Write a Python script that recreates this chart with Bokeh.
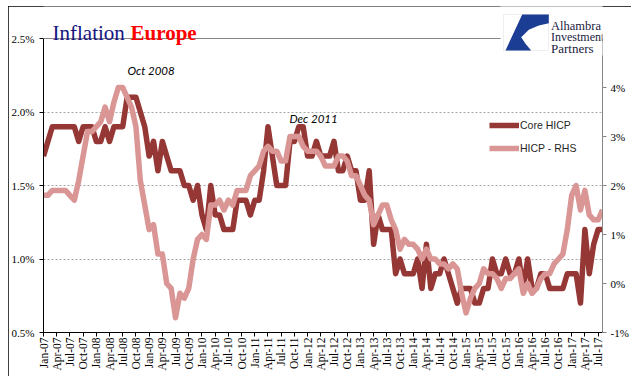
import math
from bokeh.plotting import figure
from bokeh.models import (Range1d, LinearAxis, FixedTicker, PrintfTickFormatter,
                          Legend, LegendItem, Label, Span, BoxAnnotation, PolyAnnotation)
from bokeh.embed import file_html
from bokeh.resources import INLINE

# ---------------- data (Jan 2007 .. Aug 2017, monthly, y/y %) ----------------
core_hicp = [
    1.7, 1.8, 1.9, 1.9, 1.9, 1.9, 1.9, 1.9, 1.8, 1.9, 1.9, 1.9,   # 2007
    1.8, 1.8, 1.9, 1.8, 1.9, 1.9, 1.9, 2.1, 2.1, 2.1, 2.0, 1.9,   # 2008
    1.7, 1.8, 1.6, 1.8, 1.7, 1.6, 1.6, 1.6, 1.5, 1.5, 1.4, 1.5,   # 2009
    1.3, 1.2, 1.5, 1.3, 1.3, 1.2, 1.2, 1.2, 1.4, 1.4, 1.4, 1.3,   # 2010
    1.4, 1.4, 1.6, 1.9, 1.7, 1.5, 1.5, 1.5, 1.8, 1.8, 1.9, 1.9,   # 2011
    1.7, 1.7, 1.8, 1.7, 1.7, 1.7, 1.8, 1.6, 1.6, 1.7, 1.6, 1.6,   # 2012
    1.4, 1.4, 1.6, 1.1, 1.3, 1.2, 1.2, 1.2, 0.9, 1.0, 0.9, 0.9,   # 2013
    0.9, 1.0, 0.8, 1.1, 0.8, 0.9, 0.9, 1.0, 0.9, 0.8, 0.7, 0.8,   # 2014
    0.8, 0.8, 0.7, 0.7, 0.8, 0.8, 1.0, 0.9, 0.9, 1.0, 0.9, 0.9,   # 2015
    1.0, 0.8, 1.0, 0.8, 0.8, 0.9, 0.9, 0.8, 0.8, 0.8, 0.8, 0.9,   # 2016
    0.9, 0.9, 0.7, 1.2, 0.9, 1.1, 1.2, 1.2,                       # 2017
]
hicp_rhs = [
    1.8, 1.8, 1.9, 1.9, 1.9, 1.9, 1.8, 1.7, 2.1, 2.6, 3.1, 3.1,   # 2007
    3.2, 3.3, 3.6, 3.3, 3.7, 4.0, 4.0, 3.8, 3.6, 3.2, 2.1, 1.6,   # 2008
    1.1, 1.2, 0.6, 0.6, 0.0, -0.1, -0.7, -0.2, -0.3, -0.1, 0.5, 0.9,  # 2009
    1.0, 0.9, 1.6, 1.6, 1.7, 1.5, 1.7, 1.6, 1.9, 1.9, 1.9, 2.2,   # 2010
    2.3, 2.4, 2.7, 2.8, 2.7, 2.7, 2.5, 2.5, 3.0, 3.0, 3.0, 2.8,   # 2011
    2.7, 2.7, 2.7, 2.6, 2.4, 2.4, 2.4, 2.6, 2.6, 2.5, 2.2, 2.2,   # 2012
    2.0, 1.8, 1.7, 1.2, 1.4, 1.6, 1.6, 1.3, 1.1, 0.7, 0.9, 0.8,   # 2013
    0.8, 0.7, 0.5, 0.7, 0.5, 0.5, 0.4, 0.4, 0.3, 0.4, 0.3, -0.2,  # 2014
    -0.6, -0.3, -0.1, 0.0, 0.3, 0.2, 0.2, 0.1, -0.1, 0.1, 0.1, 0.2,  # 2015
    0.3, -0.2, 0.0, -0.2, -0.1, 0.1, 0.2, 0.2, 0.4, 0.5, 0.6, 1.1,   # 2016
    1.8, 2.0, 1.5, 1.9, 1.4, 1.3, 1.3, 1.5,                          # 2017
]
month_index = list(range(len(core_hicp)))

quarter_labels = [
    "Jan-07", "Apr-07", "Jul-07", "Oct-07", "Jan-08", "Apr-08", "Jul-08", "Oct-08",
    "Jan-09", "Apr-09", "Jul-09", "Oct-09", "Jan-10", "Apr-10", "Jul-10", "Oct-10",
    "Jan-11", "Apr-11", "Jul-11", "Oct-11", "Jan-12", "Apr-12", "Jul-12", "Oct-12",
    "Jan-13", "Apr-13", "Jul-13", "Oct-13", "Jan-14", "Apr-14", "Jul-14", "Oct-14",
    "Jan-15", "Apr-15", "Jul-15", "Oct-15", "Jan-16", "Apr-16", "Jul-16", "Oct-16",
    "Jan-17", "Apr-17", "Jul-17",
]
quarter_ticks = [3 * i for i in range(len(quarter_labels))]
left_ticks = [0.5, 1.0, 1.5, 2.0, 2.5]
left_grid = [1.0, 1.5, 2.0]
right_ticks = [-1, 0, 1, 2, 3, 4]
left_lo, left_hi = 0.5, 2.5
right_lo, right_hi = -1, 5

CORE_COLOR = "#953735"
HICP_COLOR = "#D99694"
SERIF = "Liberation Serif"

# the plot frame spans 294 px for the axis ranges; it is extended 32 px upward
# so that the title and the logo are drawn inside it
FRAME_H = 294
EXTRA_TOP = 32
left_end = left_hi + (left_hi - left_lo) * EXTRA_TOP / FRAME_H
right_end = right_hi + (right_hi - right_lo) * EXTRA_TOP / FRAME_H

W, H = 623, 370
p = figure(width=W, height=H, title=None,
           x_range=Range1d(0, len(core_hicp) - 1), y_range=Range1d(left_lo, left_end),
           output_backend="svg", toolbar_location=None,
           min_border_left=33, min_border_right=29, min_border_top=0, min_border_bottom=44,
           background_fill_color="white", border_fill_color="white",
           outline_line_color=None)
p.styles = {"margin-left": "8px", "margin-top": "6px",
            "outline": "1px solid #000000", "outline-offset": "-1px"}
p.extra_y_ranges = {"rhs": Range1d(right_lo, right_end)}

# left axis
ya = p.left[0]
ya.bounds = (left_lo, left_hi)
ya.ticker = FixedTicker(ticks=left_ticks)
ya.formatter = PrintfTickFormatter(format="%.1f%%")
ya.axis_line_color = "black"
ya.major_tick_line_color = "black"
ya.major_tick_out = 4
ya.major_tick_in = 0
ya.minor_tick_line_color = None
ya.major_label_text_font = SERIF
ya.major_label_text_font_size = "11px"
ya.major_label_text_color = "black"
ya.major_label_standoff = 5

# bottom axis
xa = p.below[0]
xa.ticker = FixedTicker(ticks=quarter_ticks)
xa.major_label_overrides = {t: l for t, l in zip(quarter_ticks, quarter_labels)}
xa.major_label_orientation = math.pi / 2
xa.axis_line_color = "black"
xa.major_tick_line_color = "black"
xa.major_tick_out = 4
xa.major_tick_in = 0
xa.minor_tick_line_color = None
xa.major_label_text_font = SERIF
xa.major_label_text_font_size = "11.5px"
xa.major_label_text_color = "black"
xa.major_label_standoff = 1

# right axis
ra = LinearAxis(y_range_name="rhs", ticker=FixedTicker(ticks=right_ticks),
                formatter=PrintfTickFormatter(format="%d%%"), bounds=(right_lo, right_hi))
ra.axis_line_color = "#868686"
ra.major_tick_line_color = "#868686"
ra.major_tick_out = 4
ra.major_tick_in = 0
ra.minor_tick_line_color = None
ra.major_label_text_font = SERIF
ra.major_label_text_font_size = "11px"
ra.major_label_text_color = "black"
ra.major_label_standoff = 4
p.add_layout(ra, "right")

# grid
p.xgrid.visible = False
p.ygrid.ticker = FixedTicker(ticks=left_grid)
p.ygrid.grid_line_color = "#a6a6a6"
p.ygrid.grid_line_dash = "2 2"
p.ygrid.grid_line_width = 1

# top line of the plot area
p.add_layout(Span(location=left_hi, dimension="width", line_color="#868686", line_width=1))

# series
r_core = p.line(month_index, core_hicp, line_color=CORE_COLOR, line_width=5.5,
                line_join="round")
r_hicp = p.line(month_index, hicp_rhs, y_range_name="rhs", line_color=HICP_COLOR,
                line_width=5.5, line_join="round")

legend = Legend(items=[LegendItem(label="Core HICP", renderers=[r_core]),
                       LegendItem(label="HICP - RHS", renderers=[r_hicp])],
                location=(446, 174), margin=0, padding=0, spacing=3,
                glyph_width=30, glyph_height=20, label_standoff=1,
                border_line_color=None, background_fill_alpha=0,
                label_text_font="Liberation Sans", label_text_font_size="10.5px",
                label_text_color="#262626")
p.add_layout(legend)

# annotations (screen units, measured from the bottom-left of the frame)
note_font = "Lato"
p.add_layout(Label(x=84, y=262, x_units="screen", y_units="screen", text="Oct 2008",
                   text_font=note_font, text_font_style="italic", text_font_size="11.5px",
                   text_color="black", text_baseline="middle"))
p.add_layout(Label(x=246, y=214.5, x_units="screen", y_units="screen", text="Dec 2011",
                   text_font=note_font, text_font_style="italic", text_font_size="11.5px",
                   text_color="black", text_baseline="middle"))

# title
p.add_layout(Label(x=9, y=300, x_units="screen", y_units="screen", text="Inflation",
                   text_font=SERIF, text_font_size="21px", text_color="#141480",
                   text_baseline="alphabetic"))
p.add_layout(Label(x=87, y=300, x_units="screen", y_units="screen", text="Europe",
                   text_font=SERIF, text_font_size="21px", text_font_style="bold",
                   text_color="#FF0000", text_baseline="alphabetic"))

# logo
p.add_layout(BoxAnnotation(left=457, right=584, bottom=277, top=330,
                           left_units="screen", right_units="screen",
                           bottom_units="screen", top_units="screen",
                           fill_color="white", fill_alpha=1, line_color=None))
p.add_layout(BoxAnnotation(left=460, right=505, bottom=282, top=318,
                           left_units="screen", right_units="screen",
                           bottom_units="screen", top_units="screen",
                           fill_color="white", fill_alpha=1, line_color="#c8c8c8",
                           line_width=1))
p.add_layout(PolyAnnotation(xs=[478.7, 505.3, 505.3, 495.3, 485.3, 477.7, 482, 487.7, 462],
                            ys=[318, 318, 309.3, 307, 302.7, 295.3, 288.7, 282, 282],
                            xs_units="screen", ys_units="screen",
                            fill_color="#1c3d94", fill_alpha=1, line_color=None))
for txt, yy, fs in [("Alhambra", 307, "12.5px"), ("Investment", 295.3, "12px"),
                    ("Partners", 283.7, "13px")]:
    p.add_layout(Label(x=507.5, y=yy, x_units="screen", y_units="screen", text=txt,
                       text_font=SERIF, text_font_size=fs, text_color="#1a1a40",
                       text_baseline="alphabetic"))

open("out.html", "w").write(file_html(p, INLINE))
